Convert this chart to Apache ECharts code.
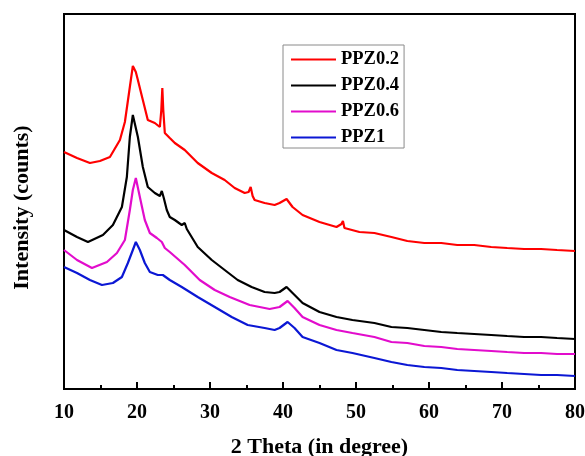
<!DOCTYPE html>
<html>
<head>
<meta charset="utf-8">
<title>XRD patterns of PPZ samples</title>
<script src="https://cdn.jsdelivr.net/npm/echarts@6/dist/echarts.min.js"></script>
<style>
  html, body { margin: 0; padding: 0; background: #fff; }
  #chart { width: 585px; height: 456px; }
</style>
</head>
<body>
<div id="chart"></div>
<script>
// 2θ positions (degree) and intensities (arbitrary counts) for each sample
const ppz02Theta  = [10.0, 11.78, 13.55, 14.92, 16.29, 17.66, 18.34, 19.02, 19.43, 19.84, 20.12, 20.80, 21.48, 22.44, 23.13, 23.33, 23.47, 23.60, 23.81, 24.49, 25.18, 26.54, 28.32, 30.24, 32.01, 33.38, 34.75, 35.29, 35.57, 35.84, 36.11, 37.48, 38.85, 39.53, 40.49, 41.31, 42.68, 45.00, 47.33, 48.01, 48.21, 48.42, 48.69, 50.47, 52.52, 54.85, 57.03, 59.36, 61.68, 63.87, 66.19, 68.52, 70.71, 73.03, 75.35, 77.54, 80.0];
const ppz02Counts = [948, 924, 904, 912, 928, 996, 1068, 1208, 1292, 1268, 1236, 1156, 1076, 1064, 1048, 1116, 1204, 1116, 1024, 1004, 984, 956, 904, 864, 836, 804, 784, 788, 808, 772, 756, 744, 736, 744, 760, 728, 696, 668, 648, 660, 672, 644, 636, 628, 624, 608, 592, 584, 584, 576, 576, 568, 564, 560, 560, 556, 552];

const ppz04Theta  = [10.0, 11.78, 13.28, 15.33, 16.70, 17.93, 18.61, 19.02, 19.43, 20.12, 20.80, 21.48, 22.44, 23.13, 23.40, 23.67, 24.08, 24.49, 25.18, 26.13, 26.54, 26.82, 28.32, 30.24, 32.01, 33.79, 35.70, 37.48, 38.85, 39.53, 40.49, 41.31, 42.68, 45.00, 47.33, 49.51, 52.52, 54.85, 57.03, 59.36, 61.68, 63.87, 66.19, 68.52, 70.71, 73.03, 75.35, 77.54, 80.0];
const ppz04Counts = [636, 608, 588, 616, 656, 728, 848, 1008, 1096, 1008, 888, 808, 784, 772, 792, 764, 716, 688, 676, 656, 664, 640, 568, 516, 476, 436, 408, 388, 384, 388, 408, 384, 344, 308, 288, 276, 264, 248, 244, 236, 228, 224, 220, 216, 212, 208, 208, 204, 200];

const ppz06Theta  = [10.0, 11.78, 13.83, 15.88, 17.25, 18.34, 19.02, 19.43, 19.84, 20.39, 21.07, 21.76, 22.72, 23.40, 23.81, 24.49, 26.54, 28.59, 30.65, 32.70, 35.43, 38.17, 39.53, 40.63, 41.58, 42.68, 45.00, 47.33, 49.51, 52.52, 54.85, 57.03, 59.36, 61.68, 63.87, 66.19, 68.52, 70.71, 73.03, 75.35, 77.54, 80.0];
const ppz06Counts = [556, 516, 484, 508, 544, 596, 716, 796, 844, 768, 676, 624, 604, 588, 564, 548, 496, 436, 396, 368, 336, 320, 328, 352, 324, 288, 256, 236, 224, 208, 188, 184, 172, 168, 160, 156, 152, 148, 144, 144, 140, 140];

const ppz1Theta   = [10.0, 11.78, 13.55, 15.20, 16.70, 17.93, 18.75, 19.43, 19.84, 20.39, 21.07, 21.76, 22.85, 23.54, 24.49, 26.13, 28.32, 30.65, 32.97, 35.16, 37.48, 38.85, 39.53, 40.63, 41.58, 42.68, 45.00, 47.33, 49.51, 52.52, 54.85, 57.03, 59.36, 61.68, 63.87, 66.19, 68.52, 70.71, 73.03, 75.35, 77.54, 80.0];
const ppz1Counts  = [488, 464, 436, 416, 424, 448, 504, 556, 588, 556, 504, 468, 456, 456, 436, 408, 368, 328, 288, 256, 244, 236, 244, 268, 244, 208, 184, 156, 144, 124, 108, 96, 88, 84, 76, 72, 68, 64, 60, 56, 56, 52];

const seriesNames  = ['PPZ0.2', 'PPZ0.4', 'PPZ0.6', 'PPZ1'];
const seriesColors = ['#ff0000', '#000000', '#e20ccc', '#0b17d4'];
const xTicks = [10, 20, 30, 40, 50, 60, 70, 80];

const pairs = (xs, ys) => xs.map((x, i) => [x, ys[i]]);
const seriesData = [
  pairs(ppz02Theta, ppz02Counts),
  pairs(ppz04Theta, ppz04Counts),
  pairs(ppz06Theta, ppz06Counts),
  pairs(ppz1Theta, ppz1Counts)
];

const serif = "'Liberation Serif', 'DejaVu Serif', serif";

const chart = echarts.init(document.getElementById('chart'), null, { renderer: 'canvas' });
chart.setOption({
  animation: false,
  backgroundColor: '#ffffff',
  grid: {
    left: 64, right: 10, top: 14, bottom: 67,
    outerBoundsMode: 'none',
    containLabel: false,
    show: true, borderColor: '#000', borderWidth: 2, backgroundColor: 'transparent'
  },
  legend: {
    orient: 'vertical',
    left: 283, top: 45,
    padding: [5, 5, 1, 8],
    icon: 'rect',
    itemWidth: 45, itemHeight: 2, itemGap: 7,
    borderColor: '#8a8a8a', borderWidth: 1,
    backgroundColor: '#fff',
    data: seriesNames,
    textStyle: { fontFamily: serif, fontWeight: 'bold', fontSize: 18.5, lineHeight: 18, color: '#000' }
  },
  xAxis: {
    type: 'value',
    min: xTicks[0], max: xTicks[xTicks.length - 1], interval: 10,
    name: '2 Theta (in degree)',
    nameLocation: 'middle', nameGap: 47,
    nameTextStyle: { fontFamily: serif, fontWeight: 'bold', fontSize: 22, color: '#000' },
    axisLine: { show: true, lineStyle: { color: '#000', width: 2 } },
    axisTick: { show: true, inside: true, length: 7, lineStyle: { color: '#000', width: 2 } },
    minorTick: { show: true, splitNumber: 2, length: 4, lineStyle: { color: '#000', width: 2 } },
    axisLabel: { fontFamily: serif, fontWeight: 'bold', fontSize: 20, color: '#000', margin: 14 },
    splitLine: { show: false }
  },
  yAxis: {
    type: 'value',
    min: 0, max: 1500,
    name: 'Intensity (counts)',
    nameLocation: 'middle', nameGap: 31, nameRotate: 90,
    nameTextStyle: { fontFamily: serif, fontWeight: 'bold', fontSize: 22, color: '#000', padding: [0, 12, 0, 0] },
    axisLine: { show: true, lineStyle: { color: '#000', width: 2 } },
    axisTick: { show: false },
    axisLabel: { show: false },
    splitLine: { show: false }
  },
  series: seriesNames.map((name, i) => ({
    name: name,
    type: 'line',
    data: seriesData[i],
    symbol: 'none',
    smooth: false,
    color: seriesColors[i],
    lineStyle: { color: seriesColors[i], width: 2.2 },
    z: 2 + i
  }))
});
</script>
</body>
</html>
